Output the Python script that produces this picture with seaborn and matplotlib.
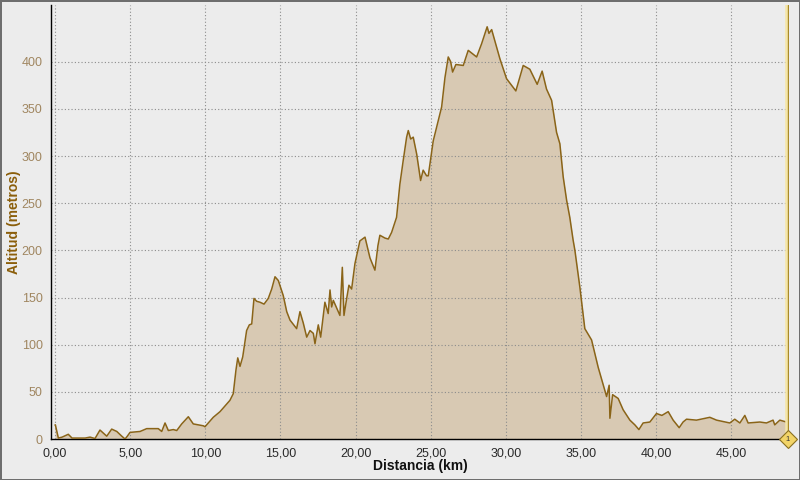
import matplotlib
matplotlib.use("Agg")
import matplotlib.pyplot as plt
import seaborn as sns
import pandas as pd

# Perfil de altitud (km, metros)
distancia_km = [
    0.00, 0.02, 0.22, 0.47, 0.88, 1.13, 2.00, 2.33, 2.66, 2.99, 3.44, 3.77, 4.11, 4.44, 4.66, 4.81,
    4.99, 5.66, 6.10, 6.87, 7.10, 7.32, 7.54, 7.87, 8.10, 8.43, 8.87, 9.20, 9.87, 9.98, 10.53, 10.98,
    11.64, 11.86, 12.04, 12.16, 12.31, 12.49, 12.75, 12.93, 13.09, 13.24, 13.42, 13.64, 13.91, 14.19,
    14.42, 14.64, 14.86, 15.19, 15.42, 15.64, 16.08, 16.30, 16.52, 16.75, 16.97, 17.19, 17.30, 17.52,
    17.68, 17.96, 18.18, 18.30, 18.41, 18.52, 18.96, 19.12, 19.23, 19.41, 19.56, 19.74, 19.96, 20.29,
    20.63, 20.96, 21.29, 21.49, 21.62, 21.96, 22.18, 22.40, 22.73, 22.95, 23.17, 23.40, 23.51, 23.67,
    23.84, 24.07, 24.33, 24.50, 24.73, 24.84, 25.17, 25.50, 25.73, 25.95, 26.17, 26.33, 26.46, 26.68,
    27.17, 27.50, 28.06, 28.39, 28.76, 28.88, 29.06, 29.61, 30.05, 30.67, 31.16, 31.60, 32.09, 32.42,
    32.71, 33.05, 33.38, 33.60, 33.82, 34.05, 34.26, 34.48, 34.60, 34.93, 35.26, 35.71, 36.15, 36.71,
    36.88, 36.93, 37.11, 37.48, 37.81, 38.26, 38.59, 38.86, 39.14, 39.59, 40.03, 40.39, 40.81, 41.14,
    41.54, 41.80, 42.03, 42.69, 43.58, 44.03, 44.91, 45.24, 45.58, 45.91, 46.13, 46.91, 47.35, 47.79,
    47.90, 48.24, 48.68, 48.77,
]
altitud_m = [
    15, 15, 1, 2, 5, 1, 1, 2, 0.5, 9.5, 3, 10.5, 8, 3, 0, 3,
    7, 8, 11, 11, 8, 17, 9, 10, 9, 16, 23.6, 16, 14, 13, 23, 29,
    41, 48, 73, 86, 77, 87, 115, 121, 122, 149, 146, 145, 143, 149,
    159, 172, 168, 152, 135, 126, 117, 135, 123, 108, 115, 112, 101, 121,
    108, 145, 133, 158, 140, 147, 131, 182, 131, 149, 163, 159, 186, 210,
    214, 192, 179, 205, 216, 213, 212, 219, 235, 270, 295, 320, 327, 318,
    320, 302, 274, 285, 279, 279, 316, 337, 352, 383, 405, 400, 389, 397,
    396, 412, 405, 419, 437, 430, 434, 403, 382, 369, 396, 392, 376, 390,
    371, 359, 325, 313, 278, 253, 235, 211, 200, 161, 117, 105, 76, 45,
    57, 22, 47, 43, 31, 20, 15, 10, 17, 18, 27, 25, 29, 20,
    12, 18, 21, 20, 23, 20, 17, 21, 17, 25, 17, 18, 17, 20,
    15, 20, 18, 18,
]
x_ticks = [0, 5, 10, 15, 20, 25, 30, 35, 40, 45]
y_ticks = [0, 50, 100, 150, 200, 250, 300, 350, 400]
marcador_km = 48.77

df = pd.DataFrame({"km": distancia_km, "alt": altitud_m})

BG = "#ECECEC"
sns.set_style("white")
plt.rcParams["font.family"] = ["Liberation Sans", "DejaVu Sans"]

fig = plt.figure(figsize=(8, 4.8), dpi=100, facecolor=BG, edgecolor="#6E6E6E", linewidth=2)
ax = fig.add_axes([0.06375, 0.0854, 0.9225, 0.904])
ax.set_facecolor(BG)

ax.fill_between(df["km"], df["alt"], 0, color="#D8C9B3", linewidth=0, zorder=1)
sns.lineplot(data=df, x="km", y="alt", ax=ax, color="#8A6418", linewidth=1.1, zorder=3, sort=False)

# linea del marcador final
ax.axvline(marcador_km, color="#F5E6A8", linewidth=4, zorder=3.5)
ax.axvline(marcador_km, color="#A88A2A", linewidth=1.0, zorder=3.6)
ax.plot([marcador_km], [0], marker="D", markersize=9, markerfacecolor="#F2D468",
        markeredgecolor="#8A7020", markeredgewidth=0.8, clip_on=False, zorder=5)
ax.text(marcador_km, 0, "1", fontsize=5.5, ha="center", va="center", color="#333333", zorder=6, clip_on=False)

ax.set_xlim(-0.27, 48.85)
ax.set_ylim(0, 460)
ax.set_xticks(x_ticks)
ax.set_xticklabels([f"{v:.2f}".replace(".", ",") for v in x_ticks])
ax.set_yticks(y_ticks)

ax.set_axisbelow("line")
ax.grid(True, color="#8C8C8C", linestyle=(0, (1, 2)), linewidth=0.8)

for s in ["top", "right"]:
    ax.spines[s].set_visible(False)
for s in ["left", "bottom"]:
    ax.spines[s].set_color("black")
    ax.spines[s].set_linewidth(1.0)

ax.tick_params(axis="x", colors="black", labelcolor="#2A2A2A", labelsize=9, length=4, width=0.8, pad=2)
ax.tick_params(axis="y", colors="black", labelcolor="#A08660", labelsize=9, length=4, width=0.8, pad=2)

ax.set_xlabel("Distancia (km)", fontsize=10, fontweight="bold", color="#111111")
ax.set_ylabel("Altitud (metros)", fontsize=10, fontweight="bold", color="#8B5E0A")
ax.yaxis.set_label_coords(-0.041, 0.5)
ax.xaxis.set_label_coords(0.50, -0.047)

fig.savefig("out.png", dpi=100, facecolor=BG, edgecolor="#6E6E6E")
